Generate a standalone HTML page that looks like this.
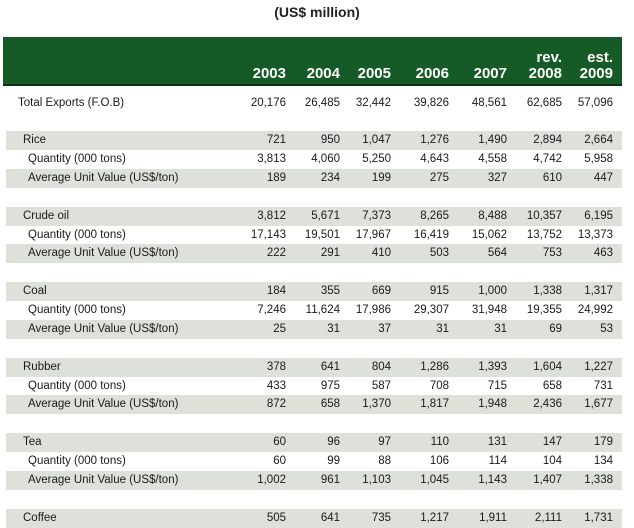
<!DOCTYPE html>
<html><head><meta charset="utf-8"><style>
body{margin:0;width:634px;height:528px;background:#fff;position:relative;overflow:hidden;font-family:"Liberation Sans",sans-serif;color:#1a1a1a}
.t{position:absolute;top:2px;left:0;width:634px;text-align:center;font-weight:bold;font-size:14px;line-height:20px;color:#222}
.hd{position:absolute;left:3px;top:37px;width:619px;height:47px;background:#155a27;border-bottom:2px solid #0e2d16}
.hr{position:absolute;left:6px;display:flex;font-weight:bold;color:#fff;font-size:15px;line-height:19px}
.r{position:absolute;left:6px;width:616px;height:19px;display:flex;font-size:11.5px;line-height:19px}
.s{background:#dde1da}
.r span,.hr span{display:block;text-align:right}
.r span:first-child,.hr span:first-child{text-align:left;width:230px}
.c1{width:50px}.c2{width:54px}.c3{width:51px}.c4{width:58px}.c5{width:58px}.c6{width:55px}.c7{width:51px}
</style></head><body>
<div class="t">(US$ million)</div>
<div class="hd"></div>
<div class="hr" style="top:48px"><span></span><span class="c1"></span><span class="c2"></span><span class="c3"></span><span class="c4"></span><span class="c5"></span><span class="c6">rev.</span><span class="c7">est.</span></div>
<div class="hr" style="top:64px"><span></span><span class="c1">2003</span><span class="c2">2004</span><span class="c3">2005</span><span class="c4">2006</span><span class="c5">2007</span><span class="c6">2008</span><span class="c7">2009</span></div>

<div class="r" style="top:94px"><span style="padding-left:12px;width:218px">Total Exports (F.O.B)</span><span class="c1">20,176</span><span class="c2">26,485</span><span class="c3">32,442</span><span class="c4">39,826</span><span class="c5">48,561</span><span class="c6">62,685</span><span class="c7">57,096</span></div>

<div class="r s" style="top:131px"><span style="padding-left:17px;width:213px">Rice</span><span class="c1">721</span><span class="c2">950</span><span class="c3">1,047</span><span class="c4">1,276</span><span class="c5">1,490</span><span class="c6">2,894</span><span class="c7">2,664</span></div>
<div class="r" style="top:150px"><span style="padding-left:22px;width:208px">Quantity (000 tons)</span><span class="c1">3,813</span><span class="c2">4,060</span><span class="c3">5,250</span><span class="c4">4,643</span><span class="c5">4,558</span><span class="c6">4,742</span><span class="c7">5,958</span></div>
<div class="r s" style="top:168.5px"><span style="padding-left:22px;width:208px">Average Unit Value (US$/ton)</span><span class="c1">189</span><span class="c2">234</span><span class="c3">199</span><span class="c4">275</span><span class="c5">327</span><span class="c6">610</span><span class="c7">447</span></div>

<div class="r s" style="top:206.5px"><span style="padding-left:17px;width:213px">Crude oil</span><span class="c1">3,812</span><span class="c2">5,671</span><span class="c3">7,373</span><span class="c4">8,265</span><span class="c5">8,488</span><span class="c6">10,357</span><span class="c7">6,195</span></div>
<div class="r" style="top:225.5px"><span style="padding-left:22px;width:208px">Quantity (000 tons)</span><span class="c1">17,143</span><span class="c2">19,501</span><span class="c3">17,967</span><span class="c4">16,419</span><span class="c5">15,062</span><span class="c6">13,752</span><span class="c7">13,373</span></div>
<div class="r s" style="top:244px"><span style="padding-left:22px;width:208px">Average Unit Value (US$/ton)</span><span class="c1">222</span><span class="c2">291</span><span class="c3">410</span><span class="c4">503</span><span class="c5">564</span><span class="c6">753</span><span class="c7">463</span></div>

<div class="r s" style="top:282px"><span style="padding-left:17px;width:213px">Coal</span><span class="c1">184</span><span class="c2">355</span><span class="c3">669</span><span class="c4">915</span><span class="c5">1,000</span><span class="c6">1,338</span><span class="c7">1,317</span></div>
<div class="r" style="top:301px"><span style="padding-left:22px;width:208px">Quantity (000 tons)</span><span class="c1">7,246</span><span class="c2">11,624</span><span class="c3">17,986</span><span class="c4">29,307</span><span class="c5">31,948</span><span class="c6">19,355</span><span class="c7">24,992</span></div>
<div class="r s" style="top:319.5px"><span style="padding-left:22px;width:208px">Average Unit Value (US$/ton)</span><span class="c1">25</span><span class="c2">31</span><span class="c3">37</span><span class="c4">31</span><span class="c5">31</span><span class="c6">69</span><span class="c7">53</span></div>

<div class="r s" style="top:357.5px"><span style="padding-left:17px;width:213px">Rubber</span><span class="c1">378</span><span class="c2">641</span><span class="c3">804</span><span class="c4">1,286</span><span class="c5">1,393</span><span class="c6">1,604</span><span class="c7">1,227</span></div>
<div class="r" style="top:376.5px"><span style="padding-left:22px;width:208px">Quantity (000 tons)</span><span class="c1">433</span><span class="c2">975</span><span class="c3">587</span><span class="c4">708</span><span class="c5">715</span><span class="c6">658</span><span class="c7">731</span></div>
<div class="r s" style="top:395px"><span style="padding-left:22px;width:208px">Average Unit Value (US$/ton)</span><span class="c1">872</span><span class="c2">658</span><span class="c3">1,370</span><span class="c4">1,817</span><span class="c5">1,948</span><span class="c6">2,436</span><span class="c7">1,677</span></div>

<div class="r s" style="top:433px"><span style="padding-left:17px;width:213px">Tea</span><span class="c1">60</span><span class="c2">96</span><span class="c3">97</span><span class="c4">110</span><span class="c5">131</span><span class="c6">147</span><span class="c7">179</span></div>
<div class="r" style="top:452px"><span style="padding-left:22px;width:208px">Quantity (000 tons)</span><span class="c1">60</span><span class="c2">99</span><span class="c3">88</span><span class="c4">106</span><span class="c5">114</span><span class="c6">104</span><span class="c7">134</span></div>
<div class="r s" style="top:470.5px"><span style="padding-left:22px;width:208px">Average Unit Value (US$/ton)</span><span class="c1">1,002</span><span class="c2">961</span><span class="c3">1,103</span><span class="c4">1,045</span><span class="c5">1,143</span><span class="c6">1,407</span><span class="c7">1,338</span></div>

<div class="r s" style="top:508.5px"><span style="padding-left:17px;width:213px">Coffee</span><span class="c1">505</span><span class="c2">641</span><span class="c3">735</span><span class="c4">1,217</span><span class="c5">1,911</span><span class="c6">2,111</span><span class="c7">1,731</span></div>
</body></html>
